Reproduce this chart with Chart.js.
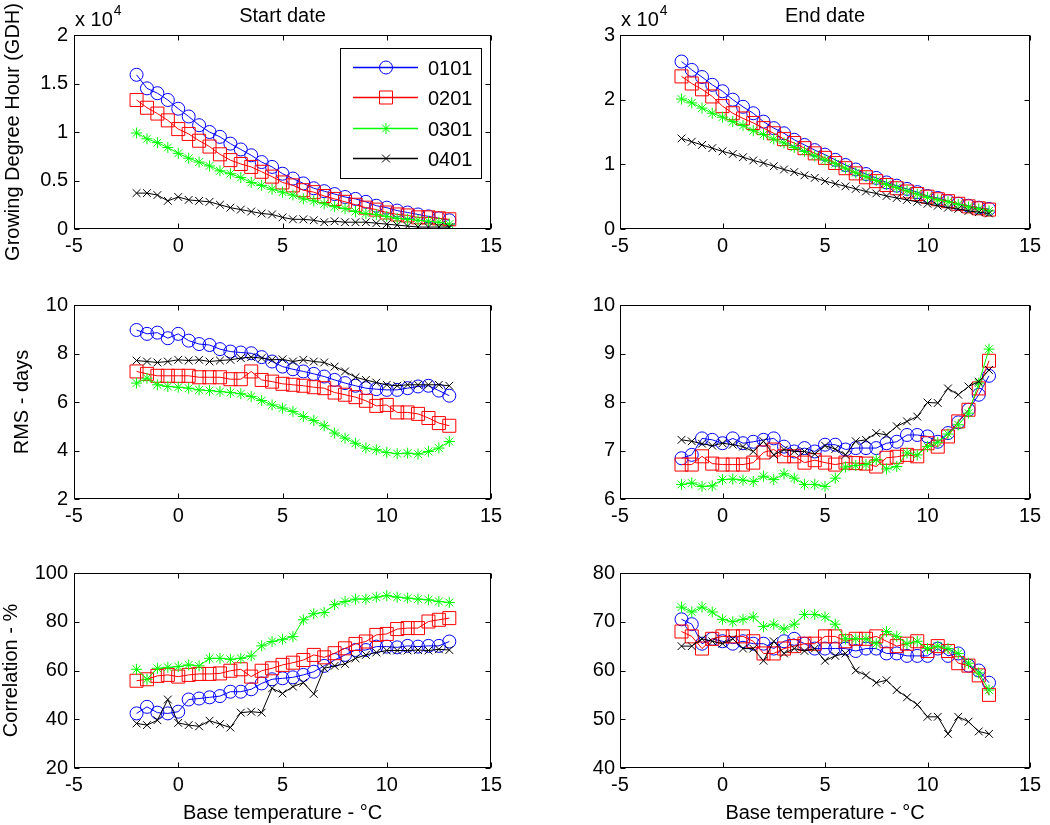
<!DOCTYPE html>
<html><head><meta charset="utf-8">
<script src="https://cdn.jsdelivr.net/npm/chart.js@4.4.1/dist/chart.umd.min.js"></script>
<style>
body{margin:0;background:#fff;width:1050px;height:825px;overflow:hidden;position:relative;}
canvas{position:absolute;display:block;}
</style>
</head><body>
<canvas id="gdhStart" width="520" height="270" style="left:0;top:0"></canvas>
<canvas id="gdhEnd" width="530" height="270" style="left:520px;top:0"></canvas>
<canvas id="rmsStart" width="520" height="270" style="left:0;top:270px"></canvas>
<canvas id="rmsEnd" width="530" height="270" style="left:520px;top:270px"></canvas>
<canvas id="corStart" width="520" height="285" style="left:0;top:540px"></canvas>
<canvas id="corEnd" width="530" height="285" style="left:520px;top:540px"></canvas>
<script>
// ---------------- data ----------------
const baseTemp = [-2,-1.5,-1,-0.5,0,0.5,1,1.5,2,2.5,3,3.5,4,4.5,5,5.5,6,6.5,7,7.5,8,8.5,9,9.5,10,10.5,11,11.5,12,12.5,13];
const seriesNames = ['0101','0201','0301','0401'];

// Growing Degree Hour, start date
const gdhStart0101 = [15900,14500,14000,13300,12400,11600,10700,10000,9500,8800,8200,7600,6900,6400,5700,5200,4700,4200,3900,3600,3300,3100,2800,2400,2200,1900,1700,1500,1300,1100,900];
const gdhStart0201 = [13300,12500,11900,11200,10300,9800,9100,8500,7700,7100,6700,6400,5900,5400,4800,4500,4000,3800,3400,3100,2800,2500,2200,2000,1700,1500,1400,1200,1200,1100,1000];
const gdhStart0301 = [9900,9300,8900,8400,7800,7300,6900,6500,6000,5700,5300,4800,4500,4100,3800,3500,3100,2900,2600,2300,2100,1800,1600,1500,1300,1100,1000,900,800,700,500];
const gdhStart0401 = [3700,3700,3500,2900,3300,3000,2900,2800,2500,2200,2000,1800,1600,1500,1200,1000,1000,900,700,800,700,700,700,600,500,400,300,200,200,200,200];
// Growing Degree Hour, end date
const gdhEnd0101 = [25900,24600,23500,22300,21300,20000,18900,17900,16600,15600,14800,13800,13000,12200,11500,10700,9900,9200,8500,7900,7200,6700,6200,5700,5100,4800,4300,3900,3600,3300,3100];
const gdhEnd0201 = [23600,22500,21600,20500,19000,17900,17100,16400,15600,14800,13900,13300,12500,11700,11000,10200,9400,8600,8000,7400,6800,6300,5800,5400,5000,4600,4300,3900,3500,3200,3000];
const gdhEnd0301 = [20100,19500,18700,17900,17300,16600,16000,15200,14600,13900,13300,12600,12000,11300,10700,10100,9400,8700,8100,7500,6900,6400,5900,5400,4900,4500,4200,3800,3400,3100,2800];
const gdhEnd0401 = [14000,13500,13000,12500,12000,11600,11100,10600,10200,9700,9200,8800,8300,7900,7400,7000,6600,6200,5800,5500,5100,4800,4500,4200,3900,3600,3300,3100,2800,2600,2400];
// RMS (days), start date
const rmsStart0101 = [8.97,8.81,8.86,8.63,8.81,8.53,8.39,8.35,8.18,8.08,8.04,8.01,7.85,7.67,7.46,7.35,7.26,7.16,7.05,6.91,6.78,6.67,6.57,6.53,6.5,6.5,6.57,6.64,6.67,6.47,6.26];
const rmsStart0201 = [7.26,7.16,7.08,7.08,7.08,7.08,7.02,7.02,7.02,6.94,6.94,7.26,6.91,6.84,6.75,6.71,6.67,6.61,6.57,6.39,6.3,6.2,6.05,5.84,5.88,5.57,5.57,5.51,5.34,5.13,5.02];
const rmsStart0301 = [6.78,6.98,6.71,6.64,6.61,6.57,6.5,6.47,6.43,6.39,6.34,6.23,6.06,5.88,5.75,5.61,5.4,5.24,5.02,4.72,4.51,4.3,4.1,4.03,3.92,3.87,3.89,3.85,3.96,4.1,4.37];
const rmsStart0401 = [7.71,7.67,7.63,7.67,7.74,7.71,7.74,7.67,7.71,7.74,7.81,7.85,7.81,7.74,7.76,7.67,7.74,7.67,7.63,7.46,7.26,7.02,6.91,6.8,6.71,6.67,6.71,6.71,6.71,6.71,6.67];
// RMS (days), end date
const rmsEnd0101 = [6.84,6.91,7.25,7.22,7.15,7.25,7.15,7.18,7.22,7.25,7.08,6.98,7.05,6.98,7.12,7.12,7.02,7.05,7.05,7.05,7.15,7.18,7.32,7.32,7.29,7.18,7.36,7.58,7.84,8.15,8.54];
const rmsEnd0201 = [6.71,6.71,6.88,6.73,6.71,6.71,6.71,6.75,6.96,7.02,6.88,6.88,6.75,6.8,6.75,6.71,6.75,6.74,6.73,6.67,6.85,6.87,6.91,6.88,7.15,7.08,7.29,7.6,7.84,8.28,8.85];
const rmsEnd0301 = [6.3,6.33,6.26,6.27,6.4,6.41,6.39,6.36,6.47,6.4,6.52,6.43,6.3,6.3,6.26,6.43,6.66,6.69,6.71,6.81,6.62,6.67,6.95,6.91,7.08,7.17,7.34,7.53,7.77,8.39,9.09];
const rmsEnd0401 = [7.22,7.19,7.14,7.1,7.15,7.12,7.08,6.98,7.19,6.91,7.02,6.98,6.98,6.93,7.1,7.03,6.91,7.19,7.22,7.36,7.32,7.5,7.6,7.7,7.99,7.98,8.28,8.15,8.32,8.42,8.66];
// Correlation (%), start date
const corStart0101 = [42.4,45.1,42.7,42.4,43.1,48.1,48.5,49,49.5,51.3,51.3,52.3,54.7,56.4,56.8,57.2,58.2,59.5,61.9,64.3,66.4,68.4,68.4,69.8,69.8,69.5,70.1,69.8,70.1,70.1,71.9];
const corStart0201 = [55.8,56.4,57.8,58.2,57.5,58.2,58.6,58.6,58.8,59.9,60.5,57.5,59.9,60.9,62.3,63.2,64.3,66.4,65.4,67.1,69.1,70.9,71.9,74.6,75,77,77.4,77.4,80.1,80.8,81.5];
const corStart0301 = [60.5,56.4,60.9,61.3,61.6,62.3,61.9,65,65,64.6,65,66,70.1,71.9,72.8,73.9,80.8,83.3,83.8,87,88.3,89.3,89.3,90.1,90.7,90.1,89.7,89.3,89,88.3,87.9];
const corStart0401 = [38.3,37.6,39.6,48.1,38.5,37.6,37.1,39.4,38,36.6,42.7,43.1,42.7,52.7,50.6,53.4,55,50.4,60.9,61.9,62.7,65,66.4,67.4,68.2,68.2,68.2,68.4,68.2,68.7,68.4];
// Correlation (%), end date
const corEnd0101 = [70.5,69.5,65.5,66.5,66,65.5,66,65.5,65.5,64.5,66,66.5,65.5,64.5,64.5,64.5,64.5,64,64.5,64.5,63.5,63.5,63,63,63,64.5,63,63.5,61,60,57.5];
const corEnd0201 = [68,67,64.5,66.5,67,67,67,66,63.5,63.5,64.5,65,65.5,65.5,67,67,66,66.5,66.5,67,66,65,65.5,66,64,65,64,61.5,61,59,55];
const corEnd0301 = [73,72,73,72,70.5,70,70.5,71,69,69.5,68.5,69.5,71.5,71.5,71,69.5,66.5,66.5,66.5,65.5,68,67,65.5,66,64.5,65,64.5,63.5,61.5,59.5,56];
const corEnd0401 = [65,65,66.5,66,65.5,66.5,64.5,64.5,62,66,63.5,64.5,64,64.5,62,63,63.5,60,59,57.5,58,56,54.5,53,50.5,50.5,47,50.5,49.5,47.5,47];

// ---------------- styles ----------------
const seriesColors = ['#0000ff','#ff0000','#00ff00','#000000'];
const markers = ['circle','rect','star','crossRot'];
const markerRadius = [6.5, 9.2, 5.5, 5.5];
const FONT = "'Liberation Sans', Arial, Helvetica, sans-serif";
Chart.defaults.font.family = FONT;
Chart.defaults.font.size = 20;
Chart.defaults.color = '#000';

function makeDatasets(list){
  return list.map((vals,i)=>({
    label: seriesNames[i],
    data: baseTemp.map((x,j)=>({x:x, y:vals[j]})),
    borderColor: seriesColors[i], backgroundColor:'rgba(0,0,0,0)',
    borderWidth: 1, tension: 0,
    pointStyle: markers[i], pointRadius: markerRadius[i], pointHoverRadius: markerRadius[i],
    pointBorderWidth: 1, pointBorderColor: seriesColors[i], pointBackgroundColor:'rgba(0,0,0,0)',
    order: 3 - i
  }));
}

const boxPlugin = {
  id:'box',
  afterDraw(chart){
    const {ctx, chartArea:a, scales} = chart;
    const L = Math.round(a.left)+0.5, R = Math.round(a.right)-0.5, T = Math.round(a.top)+0.5, B = Math.round(a.bottom)-0.5;
    ctx.save();
    ctx.strokeStyle = '#000'; ctx.lineWidth = 1;
    ctx.strokeRect(L, T, R-L, B-T);
    ctx.beginPath();
    scales.x.ticks.forEach(t=>{
      const px = Math.round(scales.x.getPixelForValue(t.value))+0.5;
      ctx.moveTo(px, B); ctx.lineTo(px, B-5);
      ctx.moveTo(px, T); ctx.lineTo(px, T+5);
    });
    scales.y.ticks.forEach(t=>{
      const py = Math.round(scales.y.getPixelForValue(t.value))+0.5;
      ctx.moveTo(L, py); ctx.lineTo(L+5, py);
      ctx.moveTo(R, py); ctx.lineTo(R-5, py);
    });
    ctx.stroke();
    // panel heading centred over the axes box
    const heading = chart.options.plugins.heading && chart.options.plugins.heading.text;
    if (heading) {
      ctx.fillStyle = '#000'; ctx.font = '20px ' + FONT;
      ctx.textAlign = 'center'; ctx.textBaseline = 'alphabetic';
      ctx.fillText(heading, (a.left + a.right) / 2, 22);
    }
    ctx.restore();
  }
};

const expPlugin = {
  id:'exponent',
  afterDraw(chart){
    const {ctx, chartArea:a} = chart;
    ctx.save();
    ctx.fillStyle = '#000'; ctx.textAlign = 'left'; ctx.textBaseline = 'alphabetic';
    ctx.font = '20px ' + FONT;
    const s = 'x 10';
    ctx.fillText(s, a.left + 1, 26);
    const w = ctx.measureText(s).width;
    ctx.font = '14px ' + FONT;
    ctx.fillText('4', a.left + 2 + w, 15);
    ctx.restore();
  }
};

const legendPlugin = {
  id:'matlabLegend',
  afterDraw(chart){
    const ctx = chart.ctx, a = chart.chartArea;
    const w = 141, h = 130;
    const x0 = Math.round(a.right - 10 - w), y0 = Math.round(a.top + 13);
    ctx.save();
    ctx.fillStyle = '#ffffff'; ctx.fillRect(x0, y0, w, h);
    ctx.strokeStyle = '#000000'; ctx.lineWidth = 1; ctx.strokeRect(x0+0.5, y0+0.5, w, h);
    ctx.restore();
    for (let i = 0; i < seriesNames.length; i++) {
      const yy = Math.round(y0 + 19 + i*30.3);
      const col = seriesColors[i];
      ctx.save();
      ctx.beginPath();
      ctx.lineWidth = 1.6;
      ctx.strokeStyle = col;
      ctx.moveTo(x0+13, yy+0.5);
      ctx.lineTo(x0+78, yy+0.5);
      ctx.stroke();
      ctx.restore();
      ctx.save();
      ctx.strokeStyle = col; ctx.fillStyle = 'rgba(255,255,255,0)'; ctx.lineWidth = 1;
      Chart.helpers.drawPoint(ctx, {pointStyle: markers[i], radius: markerRadius[i], borderWidth: 1, rotation: 0}, x0+46, yy+0.5);
      ctx.restore();
      ctx.save();
      ctx.fillStyle = '#000000'; ctx.font = '20px ' + FONT; ctx.textAlign = 'left'; ctx.textBaseline = 'alphabetic';
      ctx.fillText(seriesNames[i], x0+88, yy+8);
      ctx.restore();
    }
  }
};

function makePanel(id, cfg){
  const canvas = document.getElementById(id);
  const plugins = [boxPlugin].concat(cfg.extraPlugins || []);
  new Chart(canvas, {
    type: 'line',
    data: { datasets: makeDatasets(cfg.series) },
    options: {
      responsive: false, animation: false, events: [], devicePixelRatio: 1,
      layout: { padding: { left: 0, right: cfg.padRight, top: cfg.areaTop, bottom: 0 } },
      plugins: {
        legend: { display: false }, tooltip: { enabled: false }, title: { display: false },
        heading: { text: cfg.title || '' }
      },
      scales: {
        x: {
          type: 'linear', min: -5, max: 15,
          ticks: { stepSize: 5, padding: 5, color: '#000', font: { size: 20 }, callback: v => String(v) },
          grid: { display: false, drawTicks: false }, border: { display: false },
          title: cfg.xTitle ? { display: true, text: cfg.xTitle, color: '#000', font: { size: 20 }, padding: { top: 0, bottom: 0 } } : { display: false },
          afterFit: s => { s.height = cfg.xAxisHeight; }
        },
        y: {
          type: 'linear', min: cfg.yMin, max: cfg.yMax,
          ticks: { stepSize: cfg.yStep, padding: cfg.yPad, color: '#000', font: { size: 20 }, callback: cfg.yFmt || (v => String(v)) },
          grid: { display: false, drawTicks: false }, border: { display: false },
          title: cfg.yTitle ? { display: true, text: cfg.yTitle, color: '#000', font: { size: 20 }, padding: { top: cfg.yTitlePad, bottom: 0 } } : { display: false },
          afterFit: s => { s.width = cfg.yAxisWidth; }
        }
      }
    },
    plugins: plugins
  });
}

const gdhFmt = v => String(v / 10000);

makePanel('gdhStart', { series:[gdhStart0101,gdhStart0201,gdhStart0301,gdhStart0401], title:'Start date', padRight:29, areaTop:35, xAxisHeight:41, yAxisWidth:74, yMin:0, yMax:20000, yStep:5000, yPad:6, yFmt:gdhFmt, yTitle:'Growing Degree Hour (GDH)', yTitlePad:1, extraPlugins:[expPlugin, legendPlugin] });
makePanel('gdhEnd', { series:[gdhEnd0101,gdhEnd0201,gdhEnd0301,gdhEnd0401], title:'End date', padRight:20, areaTop:35, xAxisHeight:41, yAxisWidth:100, yMin:0, yMax:30000, yStep:10000, yPad:5, yFmt:gdhFmt, extraPlugins:[expPlugin] });
makePanel('rmsStart', { series:[rmsStart0101,rmsStart0201,rmsStart0301,rmsStart0401], padRight:29, areaTop:35, xAxisHeight:41, yAxisWidth:74, yMin:2, yMax:10, yStep:2, yPad:6, yTitle:'RMS - days', yTitlePad:10 });
makePanel('rmsEnd', { series:[rmsEnd0101,rmsEnd0201,rmsEnd0301,rmsEnd0401], padRight:20, areaTop:35, xAxisHeight:41, yAxisWidth:100, yMin:6, yMax:10, yStep:1, yPad:5 });
makePanel('corStart', { series:[corStart0101,corStart0201,corStart0301,corStart0401], padRight:29, areaTop:33, xAxisHeight:57, yAxisWidth:74, yMin:20, yMax:100, yStep:20, yPad:6, yTitle:'Correlation - %', yTitlePad:-1, xTitle:'Base temperature - °C' });
makePanel('corEnd', { series:[corEnd0101,corEnd0201,corEnd0301,corEnd0401], padRight:20, areaTop:33, xAxisHeight:57, yAxisWidth:100, yMin:40, yMax:80, yStep:10, yPad:5, xTitle:'Base temperature - °C' });
</script>
</body></html>
